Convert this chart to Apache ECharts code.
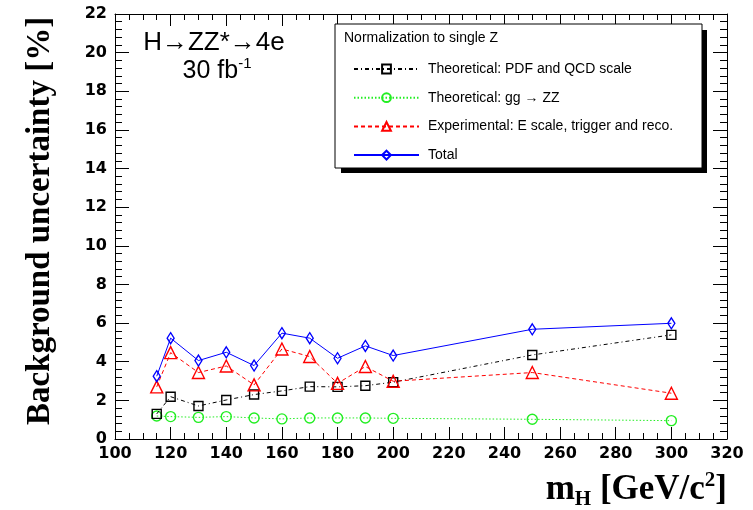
<!DOCTYPE html>
<html>
<head>
<meta charset="utf-8">
<script src="https://cdn.jsdelivr.net/npm/echarts@6/dist/echarts.min.js"></script>
<style>
  html, body { margin: 0; padding: 0; background: #fff; }
  #chart { width: 753px; height: 510px; }
</style>
</head>
<body>
<div id="chart"></div>
<script>
// Higgs mass hypotheses (GeV/c^2)
const massPoints = [115, 120, 130, 140, 150, 160, 170, 180, 190, 200, 250, 300];

// Background normalisation uncertainties, in percent
const pdfQcdScale  = [1.30, 2.19, 1.71, 2.02, 2.30, 2.49, 2.71, 2.70, 2.76, 2.94, 4.35, 5.39];
const ggToZZ       = [1.19, 1.16, 1.12, 1.16, 1.09, 1.04, 1.09, 1.09, 1.09, 1.07, 1.02, 0.95];
const experimental = [2.70, 4.47, 3.44, 3.78, 2.80, 4.66, 4.27, 2.88, 3.75, 2.99, 3.44, 2.37];
const total        = [3.25, 5.22, 4.06, 4.49, 3.80, 5.48, 5.22, 4.18, 4.82, 4.32, 5.68, 5.99];

const seriesNames = [
  'Theoretical: PDF and QCD scale',
  'Theoretical: gg \u2192 ZZ',
  'Experimental: E scale, trigger and reco.',
  'Total'
];

// Axis ranges and tick spacing
const xRange = [100, 320];
const xStep = 20;
const yRange = [0, 22];
const yStep = 2;

const tickFont = 'DejaVu Sans';
const serifBold = 'Liberation Serif';

function pairs(values) {
  return massPoints.map((m, i) => [m, values[i]]);
}

function lineSeries(name, values, color, dash, symbol, size, z) {
  return {
    name: name,
    type: 'line',
    data: pairs(values),
    symbol: symbol,
    symbolSize: size,
    showSymbol: true,
    z: z,
    lineStyle: { color: color, width: 1, type: dash },
    itemStyle: { color: 'rgba(255,255,255,0)', borderColor: color, borderWidth: 1.4 },
    emphasis: { disabled: true },
    animation: false
  };
}

function xAxisDef(position, showLabels) {
  return {
    type: 'value',
    position: position,
    min: xRange[0], max: xRange[1], interval: xStep,
    axisLine: { show: true, onZero: false, lineStyle: { color: '#000', width: 1 } },
    axisTick: { show: true, inside: true, length: 12, lineStyle: { color: '#000', width: 1 } },
    minorTick: { show: true, splitNumber: 4, length: 6, lineStyle: { color: '#000', width: 1 } },
    splitLine: { show: false },
    axisLabel: {
      show: showLabels, margin: 7, color: '#000',
      fontFamily: tickFont, fontWeight: 'bold', fontSize: 16
    }
  };
}

function yAxisDef(position, showLabels) {
  return {
    type: 'value',
    position: position,
    min: yRange[0], max: yRange[1], interval: yStep,
    axisLine: { show: true, onZero: false, lineStyle: { color: '#000', width: 1 } },
    axisTick: { show: true, inside: true, length: 14, lineStyle: { color: '#000', width: 1 } },
    minorTick: { show: true, splitNumber: 5, length: 7, lineStyle: { color: '#000', width: 1 } },
    splitLine: { show: false },
    axisLabel: {
      show: showLabels, margin: 8, color: '#000',
      fontFamily: tickFont, fontWeight: 'bold', fontSize: 16
    }
  };
}

const chart = echarts.init(document.getElementById('chart'), null, { renderer: 'canvas' });

chart.setOption({
  animation: false,
  backgroundColor: '#fff',
  grid: { left: 115, right: 26, top: 14, bottom: 71, containLabel: false, outerBoundsMode: 'none' },
  xAxis: [xAxisDef('bottom', true), xAxisDef('top', false)],
  yAxis: [yAxisDef('left', true), yAxisDef('right', false)],
  legend: {
    orient: 'vertical',
    left: 348,
    top: 56,
    z: 6,
    itemWidth: 65,
    itemHeight: 11,
    itemGap: 12.7,
    selectedMode: false,
    data: seriesNames,
    textStyle: {
      fontFamily: 'Liberation Sans', fontSize: 14, color: '#000',
      lineHeight: 16, padding: [0, 0, 0, 4]
    }
  },
  graphic: [
    // legend frame with its drop shadow
    { type: 'rect', z: 3, shape: { x: 341, y: 30, width: 366, height: 143 }, style: { fill: '#000' } },
    { type: 'rect', z: 4, shape: { x: 335, y: 24, width: 367, height: 144 },
      style: { fill: '#fff', stroke: '#000', lineWidth: 1 } },
    { type: 'text', z: 5, x: 344, y: 38,
      style: { text: 'Normalization to single Z', font: '14px "Liberation Sans"', fill: '#000',
               align: 'left', verticalAlign: 'middle' } },
    // process and luminosity
    { type: 'text', z: 5, x: 214, y: 43,
      style: { text: 'H\u2192ZZ*\u21924e', font: '26px "Liberation Sans"', fill: '#000',
               align: 'center', verticalAlign: 'middle' } },
    { type: 'text', z: 5, x: 217, y: 71,
      style: {
        text: '30 fb{sup|-1}', font: '25px "Liberation Sans"', fill: '#000',
        align: 'center', verticalAlign: 'middle', lineHeight: 30,
        rich: { sup: { fontSize: 15, fontFamily: 'Liberation Sans', verticalAlign: 'top', lineHeight: 30 } }
      } },
    // axis titles
    { type: 'text', z: 5, x: 727, y: 490,
      style: {
        text: 'm{sub|H} [GeV/c{sup|2}]', font: 'bold 35px "Liberation Serif"', fill: '#000',
        align: 'right', verticalAlign: 'middle', lineHeight: 40,
        rich: {
          sub: { fontSize: 21, fontWeight: 'bold', fontFamily: serifBold, verticalAlign: 'bottom', lineHeight: 40 },
          sup: { fontSize: 21, fontWeight: 'bold', fontFamily: serifBold, verticalAlign: 'top', lineHeight: 40 }
        }
      } },
    { type: 'text', z: 5, x: 40, y: 221, rotation: Math.PI / 2,
      style: { text: 'Background uncertainty [%]', font: 'bold 33px "Liberation Serif"', fill: '#000',
               align: 'center', verticalAlign: 'middle' } }
  ],
  series: [
    lineSeries(seriesNames[0], pdfQcdScale, '#000000', [4, 3, 1, 3], 'rect', 9, 3),
    lineSeries(seriesNames[1], ggToZZ, '#22ee22', [1.5, 2], 'circle', 10, 2),
    lineSeries(seriesNames[2], experimental, '#ff0000', [4, 3], 'triangle', 12, 4),
    lineSeries(seriesNames[3], total, '#0000ff', 'solid', 'diamond', [7, 11], 5)
  ]
});
</script>
</body>
</html>
